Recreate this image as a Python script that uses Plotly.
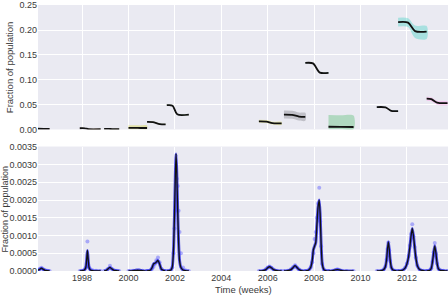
import plotly.graph_objects as go

# ---------------- data ----------------
# Bottom panel: incidence (fraction of population), per season
inc_x = [
    [1996.10, 1996.18, 1996.25, 1996.32, 1996.40, 1996.50, 1996.60],
    [1997.90, 1998.00, 1998.10, 1998.16, 1998.20, 1998.23, 1998.26, 1998.30, 1998.36, 1998.45, 1998.60, 1998.80],
    [1998.95, 1999.05, 1999.12, 1999.20, 1999.28, 1999.38, 1999.50, 1999.60],
    [2000.00, 2000.20, 2000.35, 2000.45, 2000.60, 2000.80],
    [2000.80, 2000.95, 2001.02, 2001.08, 2001.14, 2001.20, 2001.27, 2001.34, 2001.42, 2001.60],
    [2001.65, 2001.75, 2001.83, 2001.89, 2001.94, 2001.98, 2002.02, 2002.05, 2002.08, 2002.12, 2002.16, 2002.20, 2002.26, 2002.35, 2002.45, 2002.60],
    [2005.62, 2005.80, 2005.92, 2006.00, 2006.08, 2006.16, 2006.25, 2006.40, 2006.60],
    [2006.70, 2006.85, 2007.00, 2007.10, 2007.18, 2007.26, 2007.35, 2007.45, 2007.62],
    [2007.62, 2007.75, 2007.85, 2007.92, 2007.97, 2008.02, 2008.07, 2008.12, 2008.17, 2008.22, 2008.26, 2008.30, 2008.35, 2008.42, 2008.50, 2008.62],
    [2008.62, 2008.80, 2008.92, 2009.00, 2009.08, 2009.20, 2009.40, 2009.70],
    [2010.70, 2010.90, 2011.00, 2011.07, 2011.12, 2011.16, 2011.20, 2011.24, 2011.28, 2011.33, 2011.40, 2011.50, 2011.62],
    [2011.62, 2011.80, 2011.92, 2012.00, 2012.07, 2012.13, 2012.18, 2012.23, 2012.28, 2012.33, 2012.38, 2012.45, 2012.55, 2012.70, 2012.85],
    [2012.85, 2012.98, 2013.05, 2013.10, 2013.15, 2013.20, 2013.25, 2013.30, 2013.36, 2013.45, 2013.58, 2013.75],
]
inc_model = [
    [0.00002, 0.00005, 0.00008, 0.00005, 0.00002, 0.00001, 0.0],
    [0.0, 0.00001, 0.00003, 0.00010, 0.00035, 0.00058, 0.00035, 0.00010, 0.00003, 0.00001, 0.0, 0.0],
    [0.0, 0.00002, 0.00006, 0.00010, 0.00006, 0.00002, 0.00001, 0.0],
    [0.0, 0.00001, 0.00002, 0.00002, 0.00001, 0.0],
    [0.0, 0.00003, 0.00010, 0.00020, 0.00022, 0.00025, 0.00030, 0.00020, 0.00005, 0.0],
    [0.0, 0.00001, 0.00003, 0.00012, 0.00060, 0.00150, 0.00270, 0.00330, 0.00280, 0.00170, 0.00080, 0.00030, 0.00010, 0.00003, 0.00001, 0.0],
    [0.0, 0.00001, 0.00004, 0.00009, 0.00012, 0.00009, 0.00004, 0.00001, 0.0],
    [0.0, 0.00001, 0.00004, 0.00010, 0.00015, 0.00010, 0.00004, 0.00001, 0.0],
    [0.0, 0.00002, 0.00010, 0.00030, 0.00060, 0.00070, 0.00080, 0.00130, 0.00180, 0.00200, 0.00160, 0.00080, 0.00020, 0.00004, 0.00001, 0.0],
    [0.0, 0.00001, 0.00003, 0.00004, 0.00003, 0.00001, 0.0, 0.0],
    [0.0, 0.00001, 0.00004, 0.00012, 0.00030, 0.00060, 0.00082, 0.00060, 0.00030, 0.00010, 0.00003, 0.00001, 0.0],
    [0.0, 0.00002, 0.00008, 0.00020, 0.00040, 0.00070, 0.00100, 0.00120, 0.00100, 0.00070, 0.00040, 0.00015, 0.00004, 0.00001, 0.0],
    [0.0, 0.00002, 0.00008, 0.00025, 0.00050, 0.00071, 0.00050, 0.00022, 0.00006, 0.00002, 0.00001, 0.0],
]
inc_obs = [
    [0.00002, 0.00006, 0.00009, 0.00005, 0.00002, 0.00001, 0.0],
    [0.0, 0.00001, 0.00004, 0.00010, 0.00020, 0.00083, 0.00020, 0.00010, 0.00005, 0.00002, 0.00001, 0.0],
    [0.0, 0.00002, 0.00006, 0.00015, 0.00006, 0.00002, 0.00001, 0.0],
    [0.0, 0.00001, 0.00002, 0.00003, 0.00001, 0.0],
    [0.0, 0.00002, 0.00006, 0.00012, 0.00020, 0.00030, 0.00038, 0.00025, 0.00006, 0.0],
    [0.0, 0.0, 0.00003, 0.00010, 0.00050, 0.00120, 0.00170, 0.00200, 0.00260, 0.00240, 0.00170, 0.00110, 0.00050, 0.00010, 0.00002, 0.0],
    [0.0, 0.00001, 0.00005, 0.00010, 0.00013, 0.00009, 0.00004, 0.00001, 0.0],
    [0.0, 0.00001, 0.00005, 0.00011, 0.00016, 0.00010, 0.00004, 0.00001, 0.0],
    [0.0, 0.00002, 0.00010, 0.00025, 0.00050, 0.00090, 0.00110, 0.00150, 0.00190, 0.00235, 0.00140, 0.00070, 0.00020, 0.00004, 0.00001, 0.0],
    [0.0, 0.00001, 0.00003, 0.00005, 0.00003, 0.00001, 0.0, 0.0],
    [0.0, 0.00001, 0.00005, 0.00013, 0.00032, 0.00062, 0.00080, 0.00058, 0.00028, 0.00010, 0.00003, 0.00001, 0.0],
    [0.0, 0.00002, 0.00009, 0.00021, 0.00042, 0.00072, 0.00105, 0.00132, 0.00098, 0.00068, 0.00038, 0.00015, 0.00004, 0.00001, 0.0],
    [0.0, 0.00002, 0.00008, 0.00026, 0.00052, 0.00079, 0.00048, 0.00021, 0.00006, 0.00002, 0.00001, 0.0],
]

# Top panel: susceptible fraction per season (mean and band)
sus_x = [
    [1996.10, 1996.35, 1996.60],
    [1997.90, 1998.12, 1998.28, 1998.80],
    [1998.95, 1999.15, 1999.30, 1999.60],
    [2000.00, 2000.30, 2000.50, 2000.80],
    [2000.80, 2001.05, 2001.35, 2001.60],
    [2001.65, 2001.90, 2002.10, 2002.60],
    [2005.62, 2005.95, 2006.20, 2006.60],
    [2006.70, 2007.05, 2007.35, 2007.62],
    [2007.62, 2007.95, 2008.25, 2008.62],
    [2008.62, 2009.15, 2009.70],
    [2010.70, 2011.08, 2011.32, 2011.62],
    [2011.62, 2012.05, 2012.35, 2012.85],
    [2012.85, 2013.05, 2013.30, 2013.75],
]
sus_mean = [
    [0.0015, 0.0014, 0.0013],
    [0.0025, 0.0024, 0.0006, 0.0005],
    [0.0011, 0.0011, 0.0008, 0.0008],
    [0.0032, 0.0032, 0.0030, 0.0030],
    [0.0155, 0.0150, 0.0108, 0.0103],
    [0.0490, 0.0480, 0.0305, 0.0300],
    [0.0165, 0.0160, 0.0128, 0.0125],
    [0.0300, 0.0295, 0.0260, 0.0255],
    [0.1340, 0.1330, 0.1145, 0.1140],
    [0.0055, 0.0052, 0.0050],
    [0.0450, 0.0445, 0.0375, 0.0370],
    [0.2160, 0.2150, 0.1980, 0.1970],
    [0.0620, 0.0610, 0.0540, 0.0530],
]
sus_lo = [
    [0.0008, 0.0007, 0.0006],
    [0.0017, 0.0016, 0.0000, 0.0000],
    [0.0004, 0.0004, 0.0002, 0.0002],
    [0.0005, 0.0005, 0.0004, 0.0004],
    [0.0145, 0.0140, 0.0098, 0.0093],
    [0.0480, 0.0470, 0.0295, 0.0290],
    [0.0135, 0.0130, 0.0098, 0.0095],
    [0.0220, 0.0215, 0.0180, 0.0175],
    [0.1330, 0.1320, 0.1135, 0.1130],
    [0.0003, 0.0003, 0.0003],
    [0.0440, 0.0435, 0.0365, 0.0360],
    [0.2070, 0.2060, 0.1840, 0.1820],
    [0.0580, 0.0570, 0.0500, 0.0490],
]
sus_hi = [
    [0.0022, 0.0021, 0.0020],
    [0.0033, 0.0032, 0.0014, 0.0013],
    [0.0018, 0.0018, 0.0014, 0.0014],
    [0.0085, 0.0085, 0.0082, 0.0082],
    [0.0165, 0.0160, 0.0118, 0.0113],
    [0.0500, 0.0490, 0.0315, 0.0310],
    [0.0195, 0.0190, 0.0158, 0.0155],
    [0.0380, 0.0375, 0.0340, 0.0335],
    [0.1350, 0.1340, 0.1155, 0.1150],
    [0.0290, 0.0285, 0.0280],
    [0.0460, 0.0455, 0.0385, 0.0380],
    [0.2250, 0.2240, 0.2090, 0.2080],
    [0.0660, 0.0650, 0.0580, 0.0570],
]
band_colors = [
    "rgba(220,120,120,0.4)", "rgba(220,160,100,0.4)", "rgba(200,180,90,0.4)",
    "rgba(209,209,57,0.4)", "rgba(160,200,80,0.4)", "rgba(110,200,90,0.4)",
    "rgba(229,229,97,0.4)", "rgba(129,129,137,0.4)", "rgba(80,180,150,0.4)",
    "rgba(89,189,117,0.4)", "rgba(80,170,220,0.4)", "rgba(69,209,197,0.4)",
    "rgba(249,149,227,0.4)",
]

y_top_ticks = [0.0, 0.05, 0.10, 0.15, 0.20, 0.25]
y_bot_ticks = [0.0, 0.0005, 0.0010, 0.0015, 0.0020, 0.0025, 0.0030, 0.0035]
x_ticks = [1998, 2000, 2002, 2004, 2006, 2008, 2010, 2012]

# ---------------- figure ----------------
fig = go.Figure()

for i in range(len(sus_x)):
    xs = sus_x[i]
    fig.add_trace(go.Scatter(
        x=xs + xs[::-1], y=sus_hi[i] + sus_lo[i][::-1],
        fill="toself", fillcolor=band_colors[i], mode="lines",
        line=dict(width=0, shape="spline", smoothing=0.8),
        hoverinfo="skip", showlegend=False, xaxis="x2", yaxis="y2"))
    fig.add_trace(go.Scatter(
        x=xs, y=sus_mean[i], mode="lines",
        line=dict(color="#111111", width=1.8, shape="spline", smoothing=0.8),
        showlegend=False, xaxis="x2", yaxis="y2"))

for i in range(len(inc_x)):
    fig.add_trace(go.Scatter(
        x=inc_x[i], y=inc_model[i], mode="lines",
        line=dict(color="rgba(30,30,230,0.75)", width=3, shape="spline", smoothing=0.6),
        showlegend=False, xaxis="x", yaxis="y"))
    fig.add_trace(go.Scatter(
        x=inc_x[i], y=inc_obs[i], mode="markers",
        marker=dict(color="rgba(70,70,255,0.4)", size=4),
        showlegend=False, xaxis="x", yaxis="y"))
    fig.add_trace(go.Scatter(
        x=inc_x[i], y=inc_model[i], mode="lines",
        line=dict(color="#111111", width=1.3, shape="spline", smoothing=0.6),
        showlegend=False, xaxis="x", yaxis="y"))

xr = [1996.10, 2013.77]
font = dict(family="Liberation Sans, Arial, sans-serif", size=9, color="#3a3a3a")
common_x = dict(range=xr, tickvals=x_ticks, showgrid=True, gridcolor="white",
                gridwidth=1, zeroline=False, showline=False, ticks="")

fig.update_layout(
    width=448, height=296,
    margin=dict(l=38, r=0, t=5, b=25),
    paper_bgcolor="white", plot_bgcolor="#EAEAF2",
    font=font, showlegend=False,
    xaxis=dict(domain=[0, 1], anchor="y", **common_x,
               ticktext=[str(v) for v in x_ticks], tickfont=dict(size=9)),
    yaxis=dict(domain=[0, 0.468], range=[0, 0.00351], tickvals=y_bot_ticks,
               ticktext=["%.4f" % v for v in y_bot_ticks],
               showgrid=True, gridcolor="white", zeroline=False, ticks="",
               tickfont=dict(size=9), ticklabeloverflow="allow"),
    xaxis2=dict(domain=[0, 1], anchor="y2", matches="x", showticklabels=False, **common_x),
    yaxis2=dict(domain=[0.532, 1], range=[0, 0.2505], tickvals=y_top_ticks,
                ticktext=["%.2f" % v for v in y_top_ticks],
                showgrid=True, gridcolor="white", zeroline=False, ticks="",
                tickfont=dict(size=9), ticklabeloverflow="allow"),
    annotations=[
        dict(text="Fraction of population", xref="paper", yref="paper",
             x=-0.071, y=0.766, textangle=-90, showarrow=False,
             xanchor="center", yanchor="middle", font=dict(size=9.5)),
        dict(text="Fraction of population", xref="paper", yref="paper",
             x=-0.081, y=0.234, textangle=-90, showarrow=False,
             xanchor="center", yanchor="middle", font=dict(size=9)),
        dict(text="Time (weeks)", xref="paper", yref="paper",
             x=0.5, y=-0.069, showarrow=False,
             xanchor="center", yanchor="middle", font=dict(size=9.5)),
    ],
)

fig.write_html("out.html")
